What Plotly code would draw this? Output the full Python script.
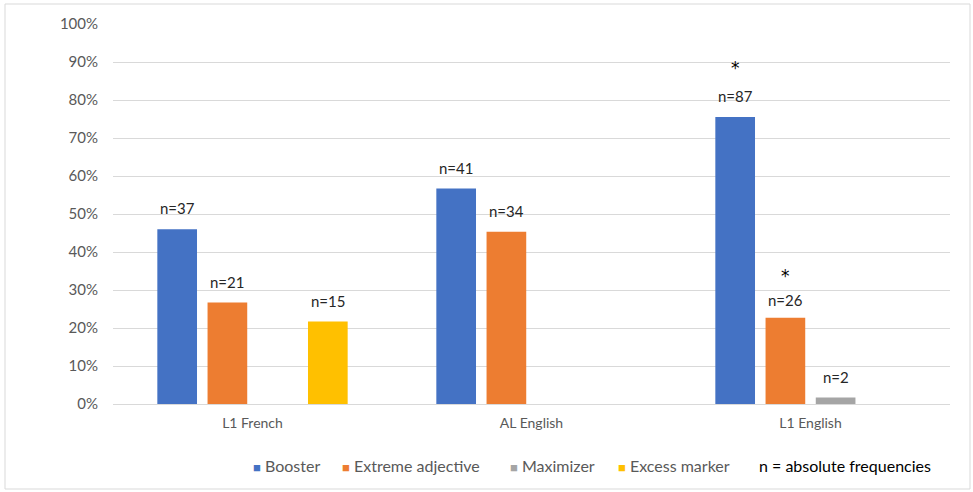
import plotly.graph_objects as go

categories = ["L1 French", "AL English", "L1 English"]
series_names = ["Booster", "Extreme adjective", "Maximizer", "Excess marker"]
booster = [46.0, 56.7, 75.5]
extreme = [26.7, 45.3, 22.7]
maximizer = [None, None, 1.7]
excess = [21.7, None, None]
booster_n = ["n=37", "n=41", "n=87"]
extreme_n = ["n=21", "n=34", "n=26"]
maximizer_n = ["", "", "n=2"]
excess_n = ["n=15", "", ""]
colors = ["#4472C4", "#ED7D31", "#A5A5A5", "#FFC000"]
y_ticks = list(range(0, 101, 10))
y_tick_labels = [f"{v}%" for v in y_ticks]
# significance markers: (series index, category index)
stars = [(0, 2), (1, 2)]
note = "n = absolute frequencies"

W, H = 973, 492
ml, mr, mt, mb = 113, 23, 24, 88
bargap = 0.28
bargroupgap = 0.21

values = [booster, extreme, maximizer, excess]
texts = [booster_n, extreme_n, maximizer_n, excess_n]

fig = go.Figure()
for name, vals, col in zip(series_names, values, colors):
    fig.add_trace(go.Bar(name=name, x=categories, y=vals,
                         marker=dict(color=col, line=dict(width=0)), showlegend=False))

plot_w = W - ml - mr
plot_h = H - mt - mb
cat_w = plot_w / len(categories)
slot = cat_w * (1 - bargap) / len(series_names)
lbl_font = dict(family="Lato", size=15, color="#262626")

for si, (vals, txts) in enumerate(zip(values, texts)):
    xshift = (si - (len(series_names) - 1) / 2) * slot
    for ci, (v, t) in enumerate(zip(vals, txts)):
        if v is None or not t:
            continue
        ys = 7 if (si, ci) == (1, 2) else 10
        fig.add_annotation(x=categories[ci], y=v, xref="x", yref="y", text=t,
                           showarrow=False, xshift=xshift, yshift=ys, yanchor="bottom",
                           font=lbl_font)

for si, ci in stars:
    xshift = (si - (len(series_names) - 1) / 2) * slot
    extra = 37 if si == 0 else 30
    fig.add_annotation(x=categories[ci], y=values[si][ci], xref="x", yref="y",
                       text="*", showarrow=False, xshift=xshift, yshift=extra, yanchor="bottom",
                       font=dict(family="DejaVu Sans", size=17, color="#000000"))

# legend drawn as text entries (left pixel positions)
legend_x = [251, 340, 508, 616]
leg_y = -(465 - (H - mb)) / plot_h
for name, col, px in zip(series_names, colors, legend_x):
    fig.add_annotation(x=(px - ml) / plot_w, y=leg_y, xref="paper", yref="paper",
                       text=f"<span style='color:{col};font-size:13px'>■</span> {name}",
                       showarrow=False, xanchor="left", yanchor="middle",
                       font=dict(family="Lato", size=16, color="#595959"))

fig.add_annotation(x=(845 - ml) / plot_w, y=leg_y, xref="paper", yref="paper", text=note,
                   showarrow=False, font=dict(family="Lato", size=16, color="#000000"),
                   xanchor="center", yanchor="middle")

fig.add_shape(type="rect", xref="paper", yref="paper",
              x0=(5 - ml) / plot_w, x1=(970 - ml) / plot_w,
              y0=(H - mb - 489) / plot_h, y1=(H - mb - 4) / plot_h,
              line=dict(color="#D9D9D9", width=1), fillcolor="rgba(0,0,0,0)", layer="below")

fig.update_layout(
    width=W, height=H, margin=dict(l=ml, r=mr, t=mt, b=mb),
    paper_bgcolor="white", plot_bgcolor="white",
    barmode="group", bargap=bargap, bargroupgap=bargroupgap,
    font=dict(family="Lato", size=14, color="#595959"),
    showlegend=False,
    xaxis=dict(showgrid=False, showline=True, linecolor="#D9D9D9", ticks="",
               ticklabelstandoff=6,
               tickfont=dict(family="Lato", size=14, color="#595959")),
    yaxis=dict(range=[0, 100], tickvals=y_ticks, ticktext=y_tick_labels, showgrid=True,
               gridcolor="#D9D9D9", gridwidth=1, zeroline=False, showline=False,
               ticklabelstandoff=14, tickfont=dict(family="Lato", size=15, color="#595959")),
)

fig.write_html("out.html")
